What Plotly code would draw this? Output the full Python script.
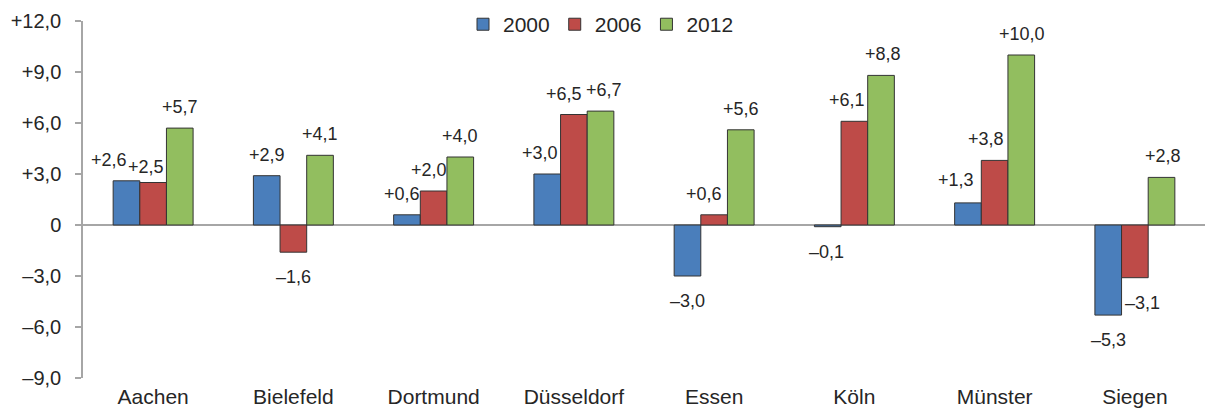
import plotly.graph_objects as go

# ---- data ----
cities = ["Aachen", "Bielefeld", "Dortmund", "Düsseldorf", "Essen", "Köln", "Münster", "Siegen"]
years = ["2000", "2006", "2012"]
v2000 = [2.6, 2.9, 0.6, 3.0, -3.0, -0.1, 1.3, -5.3]
v2006 = [2.5, -1.6, 2.0, 6.5, 0.6, 6.1, 3.8, -3.1]
v2012 = [5.7, 4.1, 4.0, 6.7, 5.6, 8.8, 10.0, 2.8]
ytick_vals = [-9, -6, -3, 0, 3, 6, 9, 12]
ytick_text = ["–9,0", "–6,0", "–3,0", "0", "+3,0", "+6,0", "+9,0", "+12,0"]

# ---- styling ----
colors = ["#4A7EBB", "#BE4B48", "#92BE5F"]
FONT = "Liberation Sans, Arial, sans-serif"
TXT = "#262626"
W, H = 1205, 409
ML, MR, MT, MB = 83, 0, 21, 31
BARGAP = 0.43

# label nudges in px (x per city/series), manual placement as in the original
label_dx = [
    [-17, -7.5, 0], [0, 0, 0], [-5, -5, 0], [-7.5, -10, 3],
    [0, -10, 0], [-1, -7.5, 1.5], [-11.5, -9, 1], [0, 8, 1.5],
]
label_dy_special = {(0, 1): 15.5, (6, 0): 23}

series = [v2000, v2006, v2012]


def fmt(v):
    s = f"{abs(v):.1f}".replace(".", ",")
    return ("+" if v > 0 else "–") + s


fig = go.Figure()
for name, vals, col in zip(years, series, colors):
    fig.add_trace(go.Bar(
        name=name, x=cities, y=vals,
        marker=dict(color=col, line=dict(color="#333333", width=1)),
    ))

plot_w = W - ML - MR
group_px = plot_w / len(cities)
bar_px = group_px * (1 - BARGAP) / len(years)

annotations = []
for si, vals in enumerate(series):
    off = (si - 1) * bar_px
    for ci, v in enumerate(vals):
        if v >= 0:
            dy = label_dy_special.get((ci, si), 21)
        else:
            dy = -label_dy_special.get((ci, si), 25)
        annotations.append(dict(
            x=cities[ci], y=v, xref="x", yref="y", text=fmt(v), showarrow=False,
            xanchor="center", yanchor="middle",
            xshift=off + label_dx[ci][si], yshift=dy,
            font=dict(family=FONT, size=18, color=TXT),
        ))

fig.update_layout(
    width=W, height=H,
    margin=dict(l=ML, r=MR, t=MT, b=MB, autoexpand=False),
    paper_bgcolor="white", plot_bgcolor="white",
    barmode="group", bargap=BARGAP, bargroupgap=0,
    font=dict(family=FONT, color=TXT),
    showlegend=True,
    legend=dict(
        orientation="h", x=(463 - ML) / plot_w, y=0.99, xanchor="left", yanchor="middle",
        font=dict(family=FONT, size=21, color=TXT),
        bgcolor="rgba(0,0,0,0)", traceorder="normal",
    ),
    annotations=annotations,
    xaxis=dict(
        showline=False, showgrid=False, zeroline=False, ticks="",
        tickfont=dict(family=FONT, size=21, color=TXT), automargin=False,
        ticklabelstandoff=4,
    ),
    yaxis=dict(
        range=[-9, 12], tickvals=ytick_vals, ticktext=ytick_text,
        showgrid=False, showline=True, linecolor="#A6A6A6", linewidth=1.5,
        ticks="outside", ticklen=6, tickcolor="#A6A6A6", tickwidth=1.5,
        zeroline=True, zerolinecolor="#A6A6A6", zerolinewidth=2,
        tickfont=dict(family=FONT, size=20, color=TXT), ticklabelstandoff=10,
        automargin=False,
    ),
)

fig.write_html(
    "out.html",
    config={"displayModeBar": False},
    post_script="document.body.style.margin='0';document.body.style.padding='0';"
                "document.body.style.overflow='hidden';",
)
